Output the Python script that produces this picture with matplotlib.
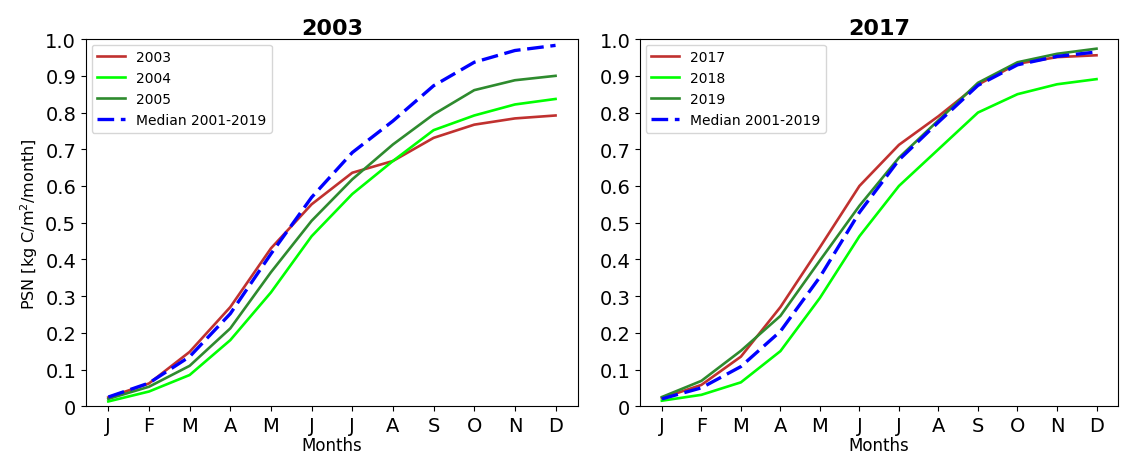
import matplotlib
matplotlib.use("Agg")
import matplotlib.pyplot as plt

months = ["J", "F", "M", "A", "M", "J", "J", "A", "S", "O", "N", "D"]

# Panel 1 (2003)
y2003 = [0.024, 0.062, 0.148, 0.27, 0.43, 0.55, 0.636, 0.668, 0.731, 0.767, 0.784, 0.792]
y2004 = [0.013, 0.040, 0.085, 0.18, 0.31, 0.463, 0.578, 0.668, 0.752, 0.792, 0.822, 0.837]
y2005 = [0.020, 0.053, 0.110, 0.212, 0.365, 0.505, 0.618, 0.713, 0.795, 0.861, 0.888, 0.900]
med_a = [0.025, 0.063, 0.135, 0.252, 0.415, 0.569, 0.691, 0.777, 0.873, 0.937, 0.969, 0.983]

# Panel 2 (2017)
y2017 = [0.022, 0.058, 0.135, 0.27, 0.433, 0.600, 0.712, 0.790, 0.876, 0.933, 0.951, 0.956]
y2018 = [0.015, 0.031, 0.065, 0.15, 0.295, 0.463, 0.600, 0.700, 0.800, 0.850, 0.877, 0.891]
y2019 = [0.025, 0.069, 0.151, 0.246, 0.397, 0.546, 0.677, 0.779, 0.881, 0.937, 0.960, 0.974]
med_b = [0.020, 0.050, 0.108, 0.204, 0.352, 0.528, 0.671, 0.774, 0.874, 0.930, 0.953, 0.965]

yticks = [0, 0.1, 0.2, 0.3, 0.4, 0.5, 0.6, 0.7, 0.8, 0.9, 1.0]
ytick_labels = ["0", "0.1", "0.2", "0.3", "0.4", "0.5", "0.6", "0.7", "0.8", "0.9", "1.0"]

c_red = "#c0312f"
c_lime = "#00ff00"
c_green = "#2e8b2e"
c_blue = "#0000ff"

fig = plt.figure(figsize=(11.25, 4.56), dpi=100)
ax1 = fig.add_axes([0.0764, 0.107, 0.4373, 0.805])
ax2 = fig.add_axes([0.569, 0.107, 0.425, 0.805])

x = list(range(12))
panels = [
    (ax1, "2003", [("2003", y2003), ("2004", y2004), ("2005", y2005)], med_a),
    (ax2, "2017", [("2017", y2017), ("2018", y2018), ("2019", y2019)], med_b),
]
for ax, title, series, med in panels:
    for (lab, vals), col in zip(series, [c_red, c_lime, c_green]):
        ax.plot(x, vals, color=col, lw=1.9, label=lab)
    ax.plot(x, med, color=c_blue, lw=2.4, ls=(0, (5, 2)), label="Median 2001-2019")
    ax.set_ylim(0, 1.0)
    ax.set_yticks(yticks)
    ax.set_yticklabels(ytick_labels)
    ax.set_xticks(x)
    ax.set_xticklabels(months)
    ax.tick_params(axis="both", labelsize=14)
    ax.set_title(title, fontsize=16, fontweight="bold", pad=4)
    ax.set_xlabel("Months", fontsize=12, labelpad=1)
    ax.legend(loc="upper left", fontsize=10, borderaxespad=0.4)

ax1.set_ylabel("PSN [kg C/m$^2$/month]", fontsize=11.5)

fig.savefig("out.png", dpi=100)
